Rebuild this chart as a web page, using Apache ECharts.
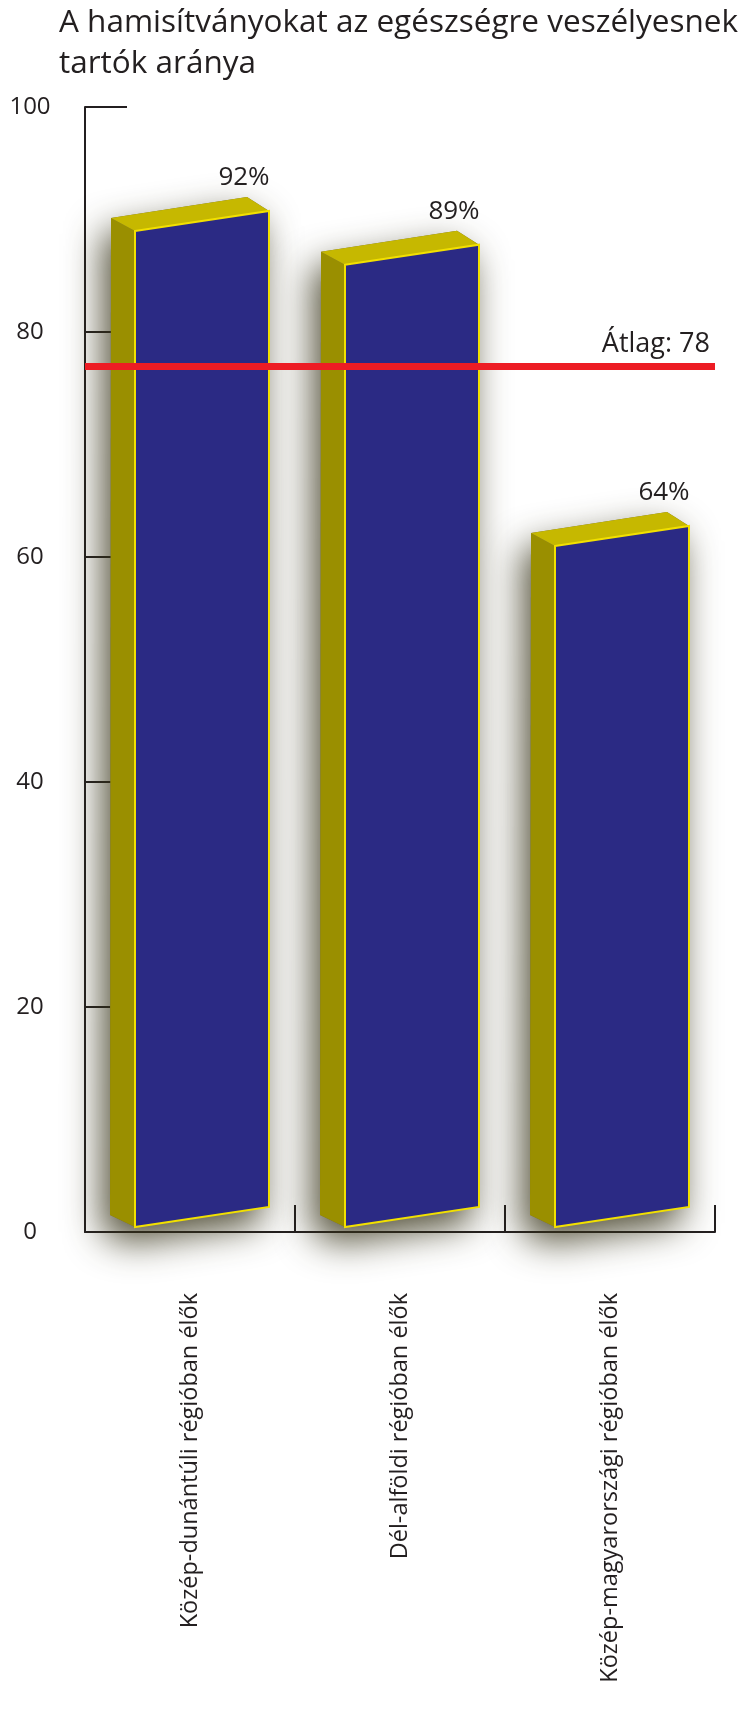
<!DOCTYPE html>
<html>
<head>
<meta charset="utf-8">
<script src="https://cdn.jsdelivr.net/npm/echarts@6/dist/echarts.min.js"></script>
<style>
  html, body { margin: 0; padding: 0; background: #ffffff; }
  #chart { width: 745px; height: 1709px; }
</style>
</head>
<body>
<div id="chart"></div>
<script>
const titleText = 'A hamisítványokat az egészségre veszélyesnek\ntartók aránya';
const categories = ['Közép-dunántúli régióban élők', 'Dél-alföldi régióban élők', 'Közép-magyarországi régióban élők'];
const values = [92, 89, 64];
const valueLabels = ['92%', '89%', '64%'];
const averageLineValue = 77;
const averageLabel = 'Átlag: 78';
const yTicks = [0, 20, 40, 60, 80, 100];

const FONT = '"Open Sans", "Noto Sans", sans-serif';
const TEXT = '#231f20';

const chart = echarts.init(document.getElementById('chart'), null, { renderer: 'canvas' });

function renderBar(params, api) {
  const i = api.value(0);
  const v = api.value(1);
  const top = api.coord([i, v]);
  const base = api.coord([i, 0]);
  const bw = api.size([1, 0])[0];
  const s = bw / 210;
  const b = top[0] - bw / 2;
  const Y = top[1];
  const Y0 = base[1];
  const X = (o) => b + o * s;

  const backLeftTop = [X(26), Y + 21];
  const backRightTop = [X(162), Y];
  const frontRightTop = [X(184), Y + 14];
  const frontLeftTop = [X(50), Y + 34];
  const frontRightBot = [X(184), Y0 - 25];
  const frontLeftBot = [X(50), Y0 - 5];
  const leftBot = [X(25), Y0 - 17];

  return {
    type: 'group',
    children: [
      {
        type: 'polygon',
        shape: { points: [backLeftTop, backRightTop, frontRightTop, frontRightBot, frontLeftBot, leftBot] },
        style: {
          fill: '#6f6a40',
          shadowBlur: 36,
          shadowColor: 'rgba(55,52,25,0.85)',
          shadowOffsetX: -8,
          shadowOffsetY: 16
        }
      },
      {
        type: 'polygon',
        shape: { points: [backLeftTop, frontLeftTop, frontLeftBot, leftBot] },
        style: { fill: '#9a8f00' }
      },
      {
        type: 'polygon',
        shape: { points: [backLeftTop, backRightTop, frontRightTop, frontLeftTop] },
        style: { fill: '#c6b800' }
      },
      {
        type: 'polygon',
        shape: { points: [frontLeftTop, frontRightTop, frontRightBot, frontLeftBot] },
        style: { fill: '#2b2a84', stroke: '#f2e000', lineWidth: 2 }
      },
      {
        type: 'text',
        style: {
          x: backRightTop[0] - 3,
          y: Y - 6,
          text: valueLabels[i],
          fill: TEXT,
          font: '26px ' + FONT,
          align: 'center',
          verticalAlign: 'bottom'
        }
      }
    ]
  };
}

chart.setOption({
  animation: false,
  backgroundColor: '#ffffff',
  title: {
    text: titleText,
    left: 59,
    top: 3,
    padding: 0,
    textStyle: {
      fontFamily: FONT,
      fontSize: 31.5,
      fontWeight: 'normal',
      color: TEXT,
      lineHeight: 41
    }
  },
  grid: { left: 85, right: 30, top: 107, bottom: 477, containLabel: false },
  xAxis: {
    type: 'category',
    data: categories,
    boundaryGap: true,
    axisLine: { show: true, lineStyle: { color: TEXT, width: 2 } },
    axisTick: { show: true, inside: true, length: 27, lineStyle: { color: TEXT, width: 2 } },
    axisLabel: {
      rotate: 90,
      margin: 61,
      fontFamily: FONT,
      fontSize: 23.5,
      color: TEXT
    },
    splitLine: { show: false }
  },
  yAxis: {
    type: 'value',
    min: yTicks[0],
    max: yTicks[yTicks.length - 1],
    interval: yTicks[1] - yTicks[0],
    axisLine: { show: true, lineStyle: { color: TEXT, width: 2 } },
    axisTick: { show: true, inside: true, length: 42, lineStyle: { color: TEXT, width: 2 } },
    axisLabel: {
      fontFamily: FONT,
      fontSize: 24,
      color: TEXT,
      align: 'center',
      margin: 55,
      padding: [0, 0, 6, 0]
    },
    splitLine: { show: false }
  },
  series: [
    {
      type: 'custom',
      renderItem: renderBar,
      data: values.map((v, i) => [i, v]),
      z: 3
    },
    {
      type: 'line',
      data: [],
      z: 5,
      markLine: {
        silent: true,
        symbol: ['none', 'none'],
        lineStyle: { color: '#ed1c24', width: 7, type: 'solid' },
        label: {
          show: true,
          position: 'insideEndTop',
          formatter: averageLabel,
          fontFamily: FONT,
          fontSize: 27,
          color: TEXT,
          distance: [5, 8]
        },
        data: [{ yAxis: averageLineValue }]
      }
    }
  ]
});
</script>
</body>
</html>
